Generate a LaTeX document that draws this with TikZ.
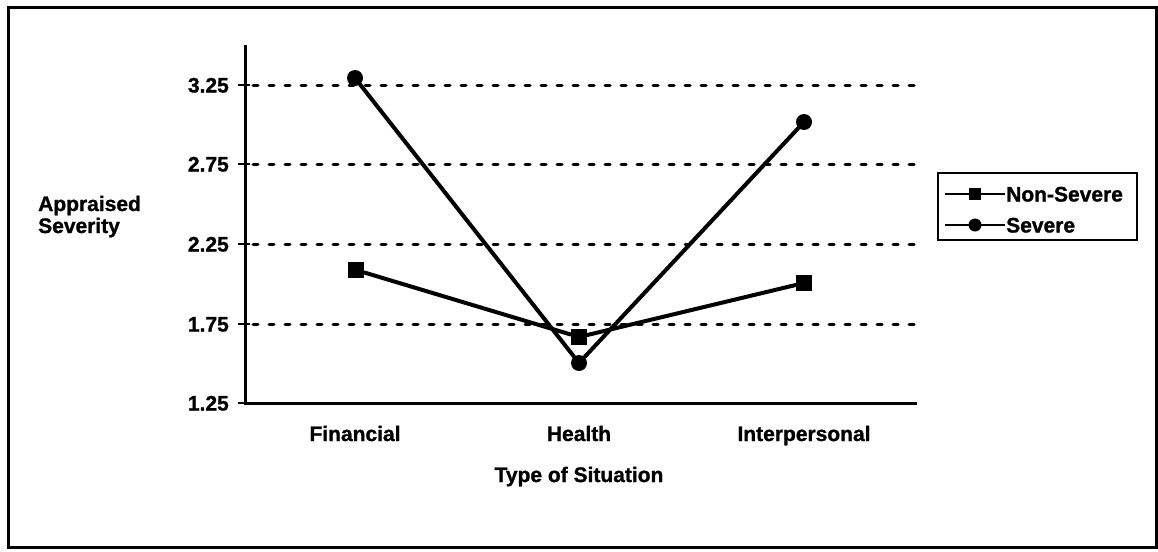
\documentclass[tikz,border=0pt]{standalone}
\usepackage{fontspec}
\setmainfont{Liberation Sans}[BoldFeatures={FakeBold=1.2}]
\begin{document}
\begin{tikzpicture}[x=1pt,y=-1pt,
  lbl/.style={font=\fontsize{21}{22}\bfseries\selectfont, inner sep=0pt},
  grid/.style={line width=3pt, line cap=round, dash pattern=on 5pt off 11pt},
  axisline/.style={line width=3pt},
  series/.style={line width=4pt, line cap=round},
  sqmark/.style={fill=black, draw=none, rectangle, minimum size=16pt, inner sep=0pt},
  cmark/.style={fill=black, draw=none, circle, minimum size=16pt, inner sep=0pt},
  sqlegend/.style={sqmark, minimum size=12pt},
  clegend/.style={cmark, minimum size=13pt}]
\useasboundingbox (0,0) rectangle (1158,551);
% outer frame
\draw[line width=3pt] (8,8) rectangle (1156,547);

% horizontal grid lines
\foreach \yy in {85,164,244,324} \draw[grid] (253,\yy) -- (917,\yy);

% axes and ticks
\coordinate (ytop) at (245,45);
\coordinate (origin) at (245,403);
\coordinate (xend) at (917,403);
\draw[axisline] (ytop) -- (origin) -- (xend);
\foreach \yy/\v in {85/3.25,164/2.75,244/2.25,324/1.75,403/1.25}{
  \draw[line width=2.5pt] (238,\yy) -- (250,\yy);
  \node[lbl, anchor=base east] at (229,\yy+7.5) {\v};
}

% axis titles
\node[lbl, anchor=base west] (ytitle1) at (38,211) {Appraised};
\node[lbl, anchor=base west] (ytitle2) at (38,233) {Severity};
\node[lbl, anchor=base] (cf) at (355,441) {Financial};
\node[lbl, anchor=base] (ch) at (579,441) {Health};
\node[lbl, anchor=base] (ci) at (804,441) {Interpersonal};
\node[lbl, anchor=base] (xtitle) at (579,482) {Type of Situation};

% data markers
\node[sqmark] (nf) at (356,270) {};
\node[sqmark] (nh) at (579,337) {};
\node[sqmark] (ni) at (804,283) {};
\node[cmark] (sf) at (355,78) {};
\node[cmark] (sh) at (579,363) {};
\node[cmark] (si) at (804,122) {};

% series lines
\draw[series] (nf) -- (nh) -- (ni);
\draw[series] (sf) -- (sh) -- (si);

% legend
\draw[line width=2.5pt] (938,173) rectangle (1137,240);
\coordinate (la1) at (945,194);
\coordinate (lb1) at (1005,194);
\coordinate (la2) at (945,225);
\coordinate (lb2) at (1005,225);
\draw[line width=2.5pt] (la1) -- (lb1);
\draw[line width=2.5pt] (la2) -- (lb2);
\node[sqlegend] (lsq) at (975,194) {};
\node[clegend] (lci) at (975,225) {};
\node[lbl, anchor=base west] (ltx1) at (1006,201.5) {Non-Severe};
\node[lbl, anchor=base west] (ltx2) at (1006,232.5) {Severe};
\end{tikzpicture}
\end{document}
